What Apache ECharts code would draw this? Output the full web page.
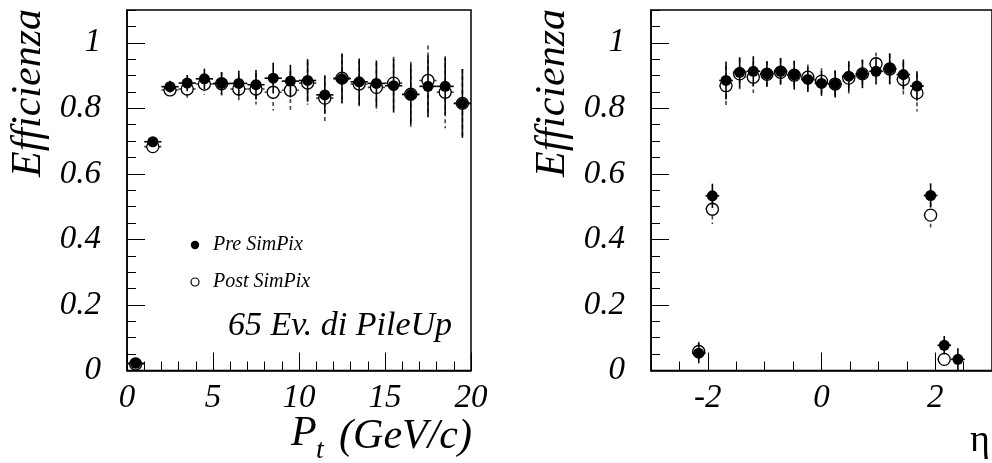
<!DOCTYPE html>
<html><head><meta charset="utf-8">
<script src="https://cdn.jsdelivr.net/npm/echarts@6/dist/echarts.min.js"></script>
<style>html,body{margin:0;padding:0;background:#fff}#c{width:992px;height:463px}</style>
</head><body><div id="c"></div>
<script>
// ---- Left panel: efficiency vs Pt ----
const ptCenters = [0.5,1.5,2.5,3.5,4.5,5.5,6.5,7.5,8.5,9.5,10.5,11.5,12.5,13.5,14.5,15.5,16.5,17.5,18.5,19.5];
const ptPre     = [0.022,0.698,0.866,0.877,0.890,0.876,0.876,0.872,0.892,0.883,0.885,0.841,0.890,0.881,0.876,0.869,0.842,0.867,0.867,0.815];
const ptPreErr  = [0.006,0.012,0.018,0.025,0.031,0.034,0.039,0.045,0.047,0.050,0.065,0.057,0.075,0.071,0.070,0.082,0.092,0.094,0.087,0.105];
const ptPost    = [0.020,0.683,0.856,0.859,0.874,0.875,0.859,0.859,0.849,0.855,0.877,0.831,0.892,0.874,0.864,0.877,0.843,0.885,0.849,0.815];
const ptPostErr = [0.006,0.014,0.020,0.027,0.033,0.036,0.042,0.047,0.056,0.059,0.066,0.071,0.076,0.073,0.075,0.080,0.099,0.107,0.110,0.105];
const ptHalfBin = 0.5;
const ptTickLabels = [0,5,10,15,20];

// ---- Right panel: efficiency vs eta ----
const etaCenters = [-2.16,-1.92,-1.68,-1.44,-1.2,-0.96,-0.72,-0.48,-0.24,0,0.24,0.48,0.72,0.96,1.2,1.44,1.68,1.92,2.16,2.4];
const etaPre     = [0.053,0.533,0.885,0.910,0.913,0.905,0.913,0.902,0.888,0.876,0.874,0.898,0.905,0.913,0.921,0.903,0.868,0.534,0.077,0.034];
const etaPreErr  = [0.031,0.037,0.058,0.046,0.046,0.039,0.041,0.043,0.038,0.038,0.041,0.046,0.043,0.040,0.046,0.046,0.045,0.037,0.028,0.034];
const etaPost    = [0.058,0.492,0.869,0.905,0.895,0.904,0.910,0.901,0.895,0.883,0.874,0.892,0.905,0.936,0.920,0.888,0.847,0.474,0.034,null];
const etaPostErr = [0.030,0.045,0.060,0.047,0.048,0.040,0.042,0.044,0.039,0.039,0.042,0.047,0.044,0.034,0.047,0.052,0.057,0.038,0.020,null];
const etaHalfBin = 0.12;
const etaTickLabels = [-2,0,2];

const yTickLabels = [0,0.2,0.4,0.6,0.8,1];
const legendNames = ['Pre SimPix','Post SimPix'];
const noteText = '65 Ev. di PileUp';
const yTitle = 'Efficienza';

const FONT = '"Liberation Serif","Times New Roman",serif';

function rows(xs, ys, es, hw){
  const out = [];
  xs.forEach((x,i)=>{ if (ys[i]!==null) out.push([x, ys[i], es[i], hw]); });
  return out;
}
function errRender(dashed){
  return function(params, api){
    const x = api.value(0), y = api.value(1), e = api.value(2), hw = api.value(3);
    const c = api.coord([x, y]);
    const t = api.coord([x, y + e]);
    const b = api.coord([x, Math.max(y - e, 0)]);
    const l = api.coord([x - hw, y]);
    const r = api.coord([x + hw, y]);
    const style = {stroke: dashed ? '#444' : '#000', lineWidth: 1.6, lineDash: dashed ? [4,3] : null, fill: null};
    return {type:'group', children:[
      {type:'line', shape:{x1:c[0], y1:t[1], x2:c[0], y2:b[1]}, style: style},
      {type:'line', shape:{x1:l[0], y1:c[1], x2:r[0], y2:c[1]}, style: style}
    ]};
  };
}

function panelSeries(idx, xs, pre, preE, post, postE, hw){
  const preRows = rows(xs, pre, preE, hw);
  const postRows = rows(xs, post, postE, hw);
  return [
    {type:'custom', xAxisIndex: idx*2, yAxisIndex: idx*2, data: postRows, renderItem: errRender(true), z: 2, silent:true},
    {type:'scatter', xAxisIndex: idx*2, yAxisIndex: idx*2, data: postRows.map(r=>[r[0],r[1]]), symbol:'circle', symbolSize: 12,
      itemStyle:{color:'#fff', borderColor:'#000', borderWidth:1.3, opacity:1}, z: 3, silent:true},
    {type:'custom', xAxisIndex: idx*2, yAxisIndex: idx*2, data: preRows, renderItem: errRender(false), z: 4, silent:true},
    {type:'scatter', xAxisIndex: idx*2, yAxisIndex: idx*2, data: preRows.map(r=>[r[0],r[1]]), symbol:'circle', symbolSize: 11,
      itemStyle:{color:'#000', opacity:1}, z: 5, silent:true}
  ];
}

const labelStyle = {fontFamily: FONT, fontStyle:'italic', fontSize: 33, color:'#000'};

function xAxes(grid, min, max, minorInt, majors){
  return [
    {type:'value', gridIndex: grid, min, max, interval: minorInt, position:'bottom',
     axisLine:{show:true, onZero:false, lineStyle:{color:'#000', width:1.5}},
     axisTick:{show:true, inside:true, length:9, lineStyle:{color:'#000', width:1}},
     axisLabel:{show:false}, splitLine:{show:false}},
    {type:'value', gridIndex: grid, min, max, position:'bottom',
     axisLine:{show:false, onZero:false},
     axisTick:{show:true, inside:true, length:18, customValues: majors, lineStyle:{color:'#000', width:1}},
     axisLabel:Object.assign({show:true, customValues: majors, margin: 11, formatter: v => String(v)}, labelStyle),
     splitLine:{show:false}}
  ];
}
function yAxes(grid){
  return [
    {type:'value', gridIndex: grid, min:0, max:1.1, interval:0.05,
     axisLine:{show:true, onZero:false, lineStyle:{color:'#000', width:1.5}},
     axisTick:{show:true, inside:true, length:9, lineStyle:{color:'#000', width:1}},
     axisLabel:{show:false}, splitLine:{show:false}},
    {type:'value', gridIndex: grid, min:0, max:1.1, position:'left',
     axisLine:{show:false, onZero:false},
     axisTick:{show:true, inside:true, length:18, customValues: yTickLabels, lineStyle:{color:'#000', width:1}},
     axisLabel:Object.assign({show:true, customValues: yTickLabels, margin: 26, formatter: v => String(v)}, labelStyle),
     splitLine:{show:false}}
  ];
}

const titleFont = {fontFamily:FONT, fontStyle:'italic', fill:'#000'};
function t(o){ return Object.assign({}, titleFont, o); }

const chart = echarts.init(document.getElementById('c'), null, {renderer:'canvas'});
chart.setOption({
  animation:false,
  backgroundColor:'#fff',
  grid:[
    {left:127, top:10, width:344, height:360.5, show:true, borderColor:'#000', borderWidth:1.5, backgroundColor:'transparent'},
    {left:651, top:10, width:345, height:360.5, show:true, borderColor:'#000', borderWidth:1.5, backgroundColor:'transparent'}
  ],
  xAxis: [].concat(xAxes(0, 0, 20, 1, ptTickLabels), xAxes(1, -3, 3, 0.5, etaTickLabels)),
  yAxis: [].concat(yAxes(0), yAxes(1)),
  series: [].concat(
    panelSeries(0, ptCenters, ptPre, ptPreErr, ptPost, ptPostErr, ptHalfBin),
    panelSeries(1, etaCenters, etaPre, etaPreErr, etaPost, etaPostErr, etaHalfBin)
  ),
  graphic:[
    {type:'text', x:29, y:9, rotation:Math.PI/2, style:t({text:yTitle, fontSize:42, align:'right', verticalAlign:'middle'})},
    {type:'text', x:553, y:9, rotation:Math.PI/2, style:t({text:yTitle, fontSize:42, align:'right', verticalAlign:'middle'})},
    {type:'text', x:291, y:434, style:t({text:'P', fontSize:42, align:'left', verticalAlign:'middle'})},
    {type:'text', x:316, y:451, style:t({text:'t', fontSize:28, align:'left', verticalAlign:'middle'})},
    {type:'text', x:472, y:437, style:t({text:'(GeV/c)', fontSize:42, align:'right', verticalAlign:'middle'})},
    {type:'text', x:980, y:441, style:{text:'η', fontFamily:FONT, fontSize:38, fill:'#000', align:'center', verticalAlign:'middle'}},
    {type:'circle', shape:{cx:195, cy:245, r:4.2}, style:{fill:'#000'}},
    {type:'circle', shape:{cx:195, cy:282, r:4}, style:{fill:'#fff', stroke:'#000', lineWidth:1.2}},
    {type:'text', x:213, y:245, style:t({text:legendNames[0], fontSize:20, align:'left', verticalAlign:'middle'})},
    {type:'text', x:213, y:282, style:t({text:legendNames[1], fontSize:20, align:'left', verticalAlign:'middle'})},
    {type:'text', x:228, y:326, style:t({text:noteText, fontSize:34, align:'left', verticalAlign:'middle'})}
  ]
});
</script>
</body></html>
